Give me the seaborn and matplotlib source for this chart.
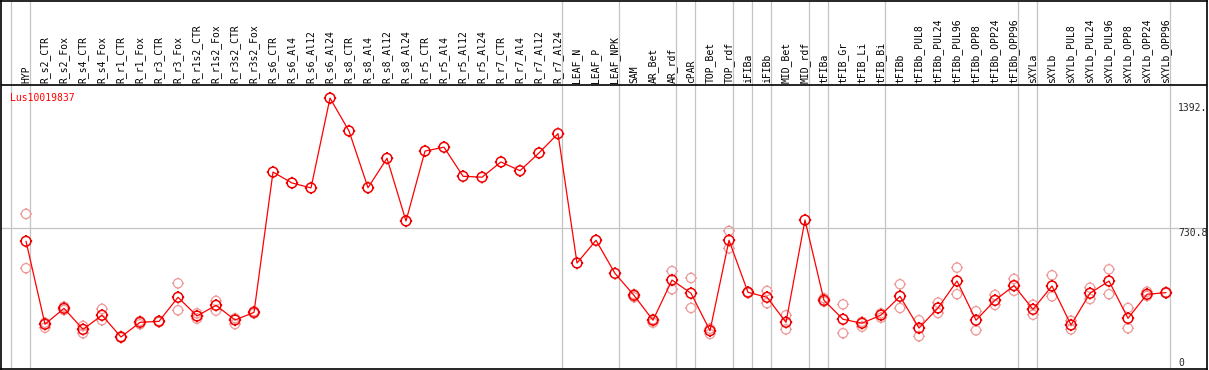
import numpy as np
import pandas as pd
import matplotlib
matplotlib.use("Agg")
from matplotlib import pyplot as plt
from matplotlib.path import Path
import seaborn as sns

# tissue / sample names in plotting order
samples = ["HYP", "R_s2_CTR", "R_s2_Fox", "R_s4_CTR", "R_s4_Fox", "R_r1_CTR", "R_r1_Fox",
           "R_r3_CTR", "R_r3_Fox", "R_r1s2_CTR", "R_r1s2_Fox", "R_r3s2_CTR", "R_r3s2_Fox",
           "R_s6_CTR", "R_s6_Al4", "R_s6_Al12", "R_s6_Al24", "R_s8_CTR", "R_s8_Al4",
           "R_s8_Al12", "R_s8_Al24", "R_r5_CTR", "R_r5_Al4", "R_r5_Al12", "R_r5_Al24",
           "R_r7_CTR", "R_r7_Al4", "R_r7_Al12", "R_r7_Al24", "LEAF_N", "LEAF_P", "LEAF_NPK",
           "SAM", "AR_Bet", "AR_rdf", "cPAR", "TOP_Bet", "TOP_rdf", "iFIBa", "iFIBb",
           "MID_Bet", "MID_rdf", "tFIBa", "tFIB_Gr", "tFIB_Li", "tFIB_Bi", "tFIBb",
           "tFIBb_PUL8", "tFIBb_PUL24", "tFIBb_PUL96", "tFIBb_OPP8", "tFIBb_OPP24",
           "tFIBb_OPP96", "sXYLa", "sXYLb", "sXYLb_PUL8", "sXYLb_PUL24", "sXYLb_PUL96",
           "sXYLb_OPP8", "sXYLb_OPP24", "sXYLb_OPP96"]

# mean expression
expr_mean = [663, 229, 312, 202, 276, 162, 239, 244, 370, 272, 328, 251, 291,
             1025, 968, 942, 1412, 1240, 943, 1097, 769, 1135, 1155, 1003, 998,
             1078, 1032, 1125, 1226, 549, 668, 495,
             380, 250, 460, 391, 195, 668, 396, 370, 239, 774, 354, 255, 234, 277, 375,
             209, 314, 455, 250, 354, 431, 307, 429, 225, 391, 455, 260, 386, 394]

# replicate values (None = no replicate shown)
N = None
rep_hi = [806, 237, 321, 220, 309, 165, 246, 247, 443, 286, 351, 260, 297,
          N, N, N, N, N, N, N, N, N, N, N, N, N, N, N, N, N, N, N,
          386, 255, 507, 471, 206, 717, 398, 403, 276, N, 365, 333, 242, 286, 438,
          250, 342, 525, 297, 382, 466, 331, 485, 247, 420, 516, 314, 399, 396]
rep_lo = [522, 211, 303, 182, 250, 159, 229, 241, 302, 258, 300, 230, 286,
          N, N, N, N, N, N, N, N, N, N, N, N, N, N, N, N, N, N, N,
          370, 237, 412, 314, 178, 626, 394, 339, 202, N, 347, 182, 216, 263, 314,
          166, 288, 386, 197, 330, 404, 279, 375, 202, 361, 386, 208, 377, 392]

# group separators sit just after these sample indices
group_ends = [-1, 0, 28, 31, 34, 35, 37, 38, 39, 41, 42, 45, 52, 53, 60]

gene = "Lus10019837"
y_ticks = [1392, 730.8, 0]
y_tick_labels = ["1392.", "730.8", "0"]

pos = np.arange(len(samples))
df = pd.DataFrame({"pos": pos, "sample": samples, "mean": expr_mean})
reps = pd.DataFrame({"pos": np.concatenate([pos, pos]),
                     "value": rep_hi + rep_lo}).dropna()

sns.set_theme(style="white")
plt.rcParams["font.family"] = ["DejaVu Sans Mono", "DejaVu Sans"]

# circle with four small notches, like the original marker
circ = Path.unit_circle()
tick_paths = [Path([(0, 1), (0, 1.28)]), Path([(0, -1), (0, -1.28)]),
              Path([(1, 0), (1.28, 0)]), Path([(-1, 0), (-1.28, 0)])]
notched = Path.make_compound_path(circ, *tick_paths)

fig = plt.figure(figsize=(12.09, 3.70), dpi=100)
ax = fig.add_axes([1 / 1209, 1 / 370, 1206 / 1209, 368.5 / 370])

px_per_unit = 0.19116
ax.set_xlim(-1.316, 62.158)
ax.set_ylim(-1 / px_per_unit, 367.5 / px_per_unit)
label_line = (368 - 85) / px_per_unit

for k in group_ends:
    ax.axvline(k + 0.23, color="#c4c4c4", lw=0.9, zorder=0)
ax.axhline(730.8, color="#c4c4c4", lw=0.9, zorder=0)
ax.axhline(label_line, color="black", lw=1.2, zorder=1)

sns.scatterplot(data=reps, x="pos", y="value", marker=notched, s=72,
                facecolor="none", edgecolor="#ef9898", linewidth=0.9, ax=ax, zorder=2)
sns.lineplot(data=df, x="pos", y="mean", color="red", lw=0.9, ax=ax, zorder=3)
sns.scatterplot(data=df, x="pos", y="mean", marker=notched, s=80,
                facecolor="none", edgecolor="#f00000", linewidth=1.1, ax=ax, zorder=4)

for p, name in zip(pos, samples):
    ax.text(p, label_line + 2 / px_per_unit, name, rotation=90, ha="center", va="bottom",
            fontsize=7, color="black")

ax.text(-0.84, (368 - 97.7) / px_per_unit, gene, color="red", fontsize=7,
        ha="left", va="center")

ax.text(60.63, y_ticks[0] - 1 / px_per_unit, y_tick_labels[0], fontsize=7, va="top", ha="left")
ax.text(60.63, y_ticks[1], y_tick_labels[1], fontsize=7, va="top", ha="left")
ax.text(60.63, y_ticks[2], y_tick_labels[2], fontsize=7, va="bottom", ha="left")

ax.set_xticks([])
ax.set_yticks([])
ax.set_xlabel("")
ax.set_ylabel("")
for sp in ax.spines.values():
    sp.set_color("black")
    sp.set_linewidth(1.2)

fig.savefig("out.png", dpi=100)
